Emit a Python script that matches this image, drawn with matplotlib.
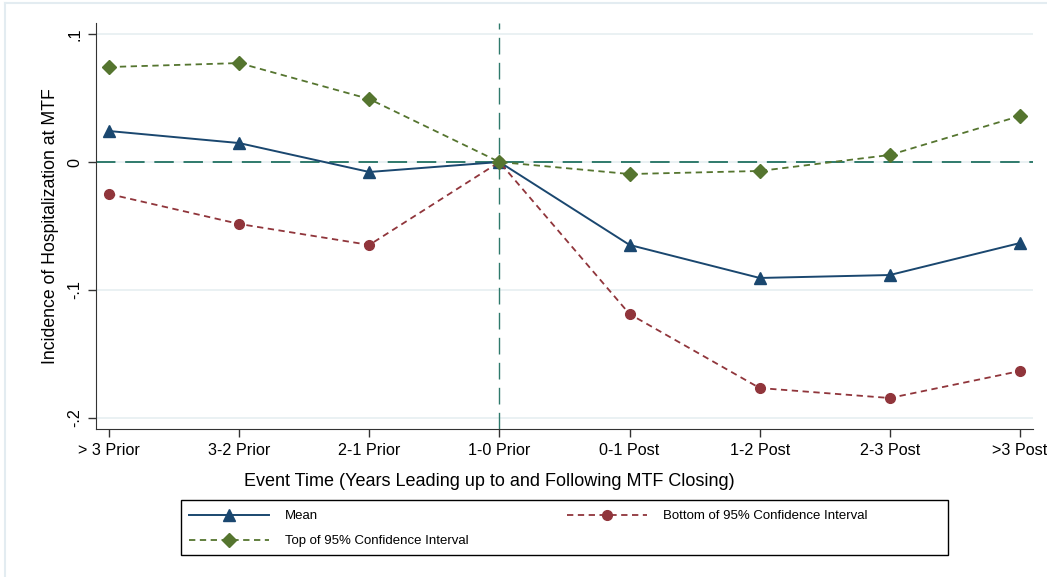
import numpy as np
import matplotlib
matplotlib.use("Agg")
import matplotlib.pyplot as plt
from matplotlib.patches import Rectangle
from matplotlib.lines import Line2D

# event-study estimates
periods = ["> 3 Prior", "3-2 Prior", "2-1 Prior", "1-0 Prior",
           "0-1 Post", "1-2 Post", "2-3 Post", ">3 Post"]
mean = [0.0242, 0.0148, -0.0078, 0.0, -0.0648, -0.0906, -0.0883, -0.0633]
ci_low = [-0.0250, -0.0484, -0.0648, 0.0, -0.1188, -0.1766, -0.1844, -0.1633]
ci_high = [0.0742, 0.0773, 0.0492, 0.0, -0.0094, -0.0070, 0.0055, 0.0360]
yticks = [0.1, 0.0, -0.1, -0.2]
ytick_labels = [".1", "0", "-.1", "-.2"]

plt.rcParams["font.family"] = ["Liberation Sans", "DejaVu Sans"]

navy = "#1a476f"
maroon = "#90353b"
green = "#55752f"
teal = "#2f7a6c"

W, H = 1047, 577
fig = plt.figure(figsize=(W / 100, H / 100), dpi=100)
ax = fig.add_axes([96 / W, 1 - 429 / H, (1033 - 96) / W, (429 - 23) / H])

x = np.arange(len(periods))

for yt in yticks:
    ax.axhline(yt, color="#e6eff1", lw=1.2, zorder=0)
ax.axhline(0, color=teal, lw=1.4, ls=(0, (10, 5)), zorder=1)
ax.axvline(3, color=teal, lw=1.0, ls=(0, (12, 6)), zorder=1)

l_mean, = ax.plot(x, mean, color=navy, lw=1.4, marker="^", ms=8,
                  label="Mean", zorder=3)
l_low, = ax.plot(x, ci_low, color=maroon, lw=1.3, ls=(0, (3.5, 2.5)),
                 marker="o", ms=7, label="Bottom of 95% Confidence Interval",
                 zorder=3)
l_high, = ax.plot(x, ci_high, color=green, lw=1.3, ls=(0, (3.5, 2.5)),
                  marker="D", ms=7, label="Top of 95% Confidence Interval",
                  zorder=3)

ax.set_xlim(-0.1, 7.1)
ax.set_ylim(-0.2086, 0.1086)
ax.set_xticks(x)
ax.set_xticklabels(periods, fontsize=11.6)
ax.set_yticks(yticks)
ax.set_yticklabels(ytick_labels, fontsize=11.6, rotation=90, va="center")
ax.tick_params(length=6, width=1, color="#333333", pad=4)

for side in ["top", "right"]:
    ax.spines[side].set_visible(False)
ax.spines["left"].set_color("#333333")
ax.spines["bottom"].set_color("#333333")

ax.set_ylabel("Incidence of Hospitalization at MTF", fontsize=12.7, labelpad=6)
fig.text(489 / W, 1 - 482 / H,
         "Event Time (Years Leading up to and Following MTF Closing)",
         fontsize=13, ha="center", va="center")

# legend box drawn separately so its width matches the original
fig.patches.append(Rectangle((181 / W, 1 - 555 / H), (948 - 181) / W, 55 / H,
                             transform=fig.transFigure, fill=False,
                             edgecolor="black", lw=1.0))
leg = fig.legend(handles=[l_mean, l_high, l_low], ncol=2,
                 loc="upper left", bbox_to_anchor=(189 / W, 1 - 510 / H),
                 borderaxespad=0, borderpad=0, frameon=False,
                 fontsize=9.5, handlelength=6.1, handletextpad=1.2,
                 labelspacing=0.98, columnspacing=7.4)

# faint outer border like the Stata graph region
fig.add_artist(Line2D([5 / W, 5 / W], [0, 1 - 3 / H], transform=fig.transFigure,
                      color="#e3ecf1", lw=1.5))
fig.add_artist(Line2D([5 / W, 1], [1 - 3 / H, 1 - 3 / H], transform=fig.transFigure,
                      color="#e3ecf1", lw=1.5))

fig.savefig("out.png", dpi=100)
